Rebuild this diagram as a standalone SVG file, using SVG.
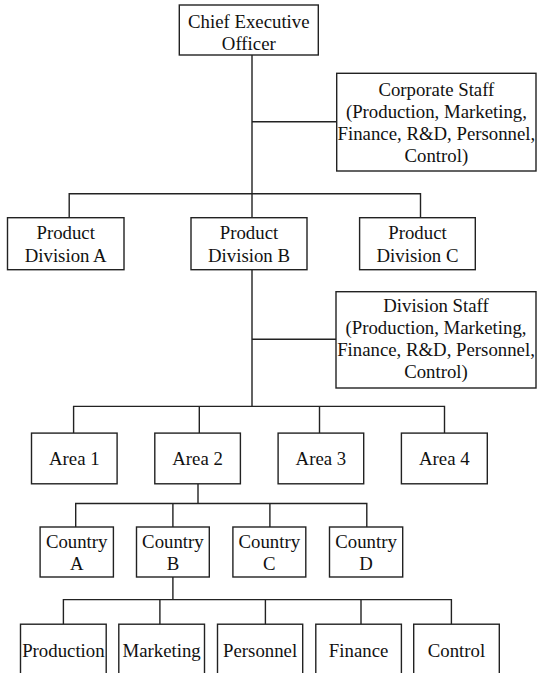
<svg xmlns="http://www.w3.org/2000/svg" width="537" height="673" viewBox="0 0 537 673">
<style>
.box{fill:#fff;stroke:#222;stroke-width:1.4}
.ln{fill:none;stroke:#222;stroke-width:1.4}
text{font-family:"Liberation Serif","Times New Roman",serif;font-size:18.8px;fill:#111;text-anchor:middle}
</style>
<rect width="537" height="673" fill="#fff"/>
<g id="connectors">
<path class="ln" d="M252,55 V193.7 M69.2,217.7 V193.7 H420.5 V217.7 M252,193.7 V217.7"/>
<path class="ln" d="M252,121.7 H336.7"/>
<path class="ln" d="M252,269.7 V406.4 M252,339.3 H336"/>
<path class="ln" d="M73.6,433.1 V406.4 H444.5 V433.1 M199.3,406.4 V433.1 M319.5,406.4 V433.1"/>
<path class="ln" d="M198,483.8 V503.5 M75.7,527 V503.5 H366.8 V527 M172.9,503.5 V527 M269.9,503.5 V527"/>
<path class="ln" d="M172.9,577 V599.6 M63.4,624.2 V599.6 H451.4 V624.2 M159.9,599.6 V624.2 M265.4,599.6 V624.2 M361,599.6 V624.2"/>
</g>
<g id="ceo"><rect class="box" x="179.3" y="5" width="139" height="50"/><text x="248.8" y="27.5">Chief Executive</text><text x="248.8" y="49.5">Officer</text></g>
<g id="corporate-staff"><rect class="box" x="336.7" y="73.3" width="199.3" height="97.7"/><text x="436.4" y="96">Corporate Staff</text><text x="436.4" y="118">(Production, Marketing,</text><text x="436.4" y="140">Finance, R&amp;D, Personnel,</text><text x="436.4" y="162">Control)</text></g>
<g id="div-a"><rect class="box" x="7.5" y="217.7" width="116.5" height="52"/><text x="65.7" y="239">Product</text><text x="65.7" y="262.2">Division A</text></g>
<g id="div-b"><rect class="box" x="191" y="217.7" width="116" height="52"/><text x="249" y="239">Product</text><text x="249" y="262.2">Division B</text></g>
<g id="div-c"><rect class="box" x="359.6" y="217.7" width="115.7" height="52"/><text x="417.5" y="239">Product</text><text x="417.5" y="262.2">Division C</text></g>
<g id="division-staff"><rect class="box" x="336" y="291.7" width="200" height="96.3"/><text x="436" y="312">Division Staff</text><text x="436" y="334">(Production, Marketing,</text><text x="436" y="356">Finance, R&amp;D, Personnel,</text><text x="436" y="378">Control)</text></g>
<g id="area-1"><rect class="box" x="31.5" y="433.1" width="85.6" height="50.7"/><text x="74.3" y="465">Area 1</text></g>
<g id="area-2"><rect class="box" x="154.8" y="433.1" width="85.6" height="50.7"/><text x="197.6" y="465">Area 2</text></g>
<g id="area-3"><rect class="box" x="278.1" y="433.1" width="85.6" height="50.7"/><text x="320.9" y="465">Area 3</text></g>
<g id="area-4"><rect class="box" x="401.4" y="433.1" width="85.9" height="50.7"/><text x="444.3" y="465">Area 4</text></g>
<g id="country-a"><rect class="box" x="40.1" y="527" width="73.3" height="50"/><text x="76.7" y="548">Country</text><text x="76.7" y="570">A</text></g>
<g id="country-b"><rect class="box" x="136.5" y="527" width="72.8" height="50"/><text x="172.9" y="548">Country</text><text x="172.9" y="570">B</text></g>
<g id="country-c"><rect class="box" x="232.9" y="527" width="72.9" height="50"/><text x="269.3" y="548">Country</text><text x="269.3" y="570">C</text></g>
<g id="country-d"><rect class="box" x="329.5" y="527" width="73.2" height="50"/><text x="366.1" y="548">Country</text><text x="366.1" y="570">D</text></g>
<g id="production"><rect class="box" x="20.5" y="624.2" width="85.7" height="60"/><text x="63.4" y="656.8">Production</text></g>
<g id="marketing"><rect class="box" x="118.8" y="624.2" width="85.7" height="60"/><text x="161.6" y="656.8">Marketing</text></g>
<g id="personnel"><rect class="box" x="217.5" y="624.2" width="85.2" height="60"/><text x="260.1" y="656.8">Personnel</text></g>
<g id="finance"><rect class="box" x="315.8" y="624.2" width="85.6" height="60"/><text x="358.6" y="656.8">Finance</text></g>
<g id="control"><rect class="box" x="413.7" y="624.2" width="85.6" height="60"/><text x="456.5" y="656.8">Control</text></g>
</svg>
